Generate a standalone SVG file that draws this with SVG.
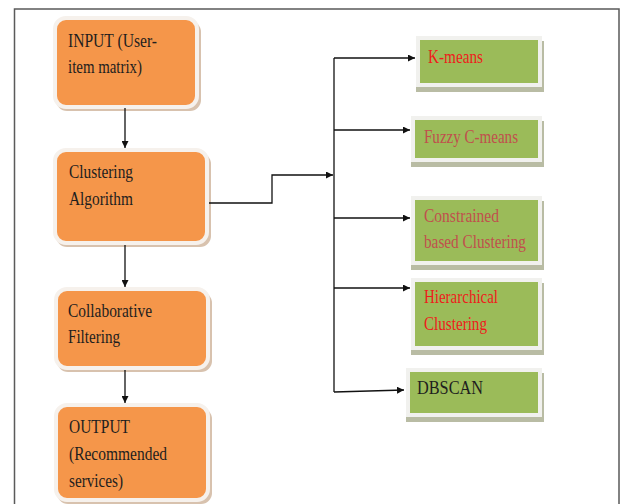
<svg xmlns="http://www.w3.org/2000/svg" width="622" height="504" viewBox="0 0 622 504">
<style>
.frame{fill:none;stroke:#5a5a5a;stroke-width:1.5}
.osh{fill:#d8c2ae}
.obox{fill:#f5964a;stroke:#f6f1ec;stroke-width:4}
.gsh{fill:#b9bca4}
.gbox{fill:#9bbb59;stroke:#f1f1ee;stroke-width:4}
.t{font-family:"Liberation Serif","Times New Roman",serif;font-size:19px;lengthAdjust:spacingAndGlyphs}
.dk{fill:#1e1e1e}
.red{fill:#ee1c1c}
.mr{fill:#c0504d}
.c{fill:none;stroke:#111;stroke-width:1.3}
</style>
<defs>
<marker id="ah" viewBox="0 0 10 10" refX="10" refY="5" markerWidth="7" markerHeight="7" markerUnits="userSpaceOnUse" orient="auto">
<path d="M0,0 L10,5 L0,10 z" fill="#111"/>
</marker>
</defs>
<rect width="622" height="504" fill="#fff"/>
<path class="frame" d="M14.5,504 V9 H619 V504"/>

<g id="input">
<rect class="osh" x="56" y="21" width="145" height="90" rx="11"/>
<rect class="obox" x="55" y="18" width="142" height="89" rx="11"/>
<text class="t dk" x="68" y="47" textLength="89" lengthAdjust="spacingAndGlyphs">INPUT (User-</text>
<text class="t dk" x="68" y="73" textLength="74" lengthAdjust="spacingAndGlyphs">item matrix)</text>
</g>
<g id="clustering">
<rect class="osh" x="56" y="153" width="155" height="94" rx="11"/>
<rect class="obox" x="55" y="150" width="152" height="93" rx="11"/>
<text class="t dk" x="69" y="178" textLength="64" lengthAdjust="spacingAndGlyphs">Clustering</text>
<text class="t dk" x="69" y="205" textLength="64" lengthAdjust="spacingAndGlyphs">Algorithm</text>
</g>
<g id="collaborative">
<rect class="osh" x="57" y="292" width="155" height="80" rx="11"/>
<rect class="obox" x="56" y="289" width="152" height="79" rx="11"/>
<text class="t dk" x="68" y="317" textLength="84" lengthAdjust="spacingAndGlyphs">Collaborative</text>
<text class="t dk" x="68" y="343" textLength="52" lengthAdjust="spacingAndGlyphs">Filtering</text>
</g>
<g id="output">
<rect class="osh" x="57" y="408" width="155" height="96" rx="11"/>
<rect class="obox" x="56" y="405" width="152" height="95" rx="11"/>
<text class="t dk" x="69" y="433" textLength="61" lengthAdjust="spacingAndGlyphs">OUTPUT</text>
<text class="t dk" x="69" y="460" textLength="98" lengthAdjust="spacingAndGlyphs">(Recommended</text>
<text class="t dk" x="69" y="487" textLength="54" lengthAdjust="spacingAndGlyphs">services)</text>
</g>

<g id="kmeans">
<rect class="gsh" x="416" y="41" width="128" height="51"/>
<rect class="gbox" x="418" y="38" width="122" height="47"/>
<text class="t red" x="428" y="63" textLength="55" lengthAdjust="spacingAndGlyphs">K-means</text>
</g>
<g id="fuzzy">
<rect class="gsh" x="411" y="121" width="133" height="46"/>
<rect class="gbox" x="413" y="118" width="127" height="42"/>
<text class="t mr" x="424" y="143" textLength="94" lengthAdjust="spacingAndGlyphs">Fuzzy C-means</text>
</g>
<g id="constrained">
<rect class="gsh" x="411" y="201" width="133" height="69"/>
<rect class="gbox" x="413" y="198" width="127" height="65"/>
<text class="t mr" x="424" y="222" textLength="75" lengthAdjust="spacingAndGlyphs">Constrained</text>
<text class="t mr" x="424" y="248" textLength="102" lengthAdjust="spacingAndGlyphs">based Clustering</text>
</g>
<g id="hierarchical">
<rect class="gsh" x="411" y="283" width="133" height="72"/>
<rect class="gbox" x="413" y="280" width="127" height="68"/>
<text class="t red" x="424" y="303" textLength="74" lengthAdjust="spacingAndGlyphs">Hierarchical</text>
<text class="t red" x="424" y="330" textLength="63" lengthAdjust="spacingAndGlyphs">Clustering</text>
</g>
<g id="dbscan">
<rect class="gsh" x="406" y="373" width="138" height="49"/>
<rect class="gbox" x="408" y="370" width="132" height="45"/>
<text class="t dk" x="417" y="394" textLength="66" lengthAdjust="spacingAndGlyphs">DBSCAN</text>
</g>

<g id="connectors">
<path class="c" d="M125,108 V148" marker-end="url(#ah)"/>
<path class="c" d="M125,245 V287" marker-end="url(#ah)"/>
<path class="c" d="M125,370 V403" marker-end="url(#ah)"/>
<path class="c" d="M209,203 H272 V175 H333" marker-end="url(#ah)"/>
<path class="c" d="M334,58 V392"/>
<path class="c" d="M334,58 H415" marker-end="url(#ah)"/>
<path class="c" d="M334,130 H410" marker-end="url(#ah)"/>
<path class="c" d="M334,218 H410" marker-end="url(#ah)"/>
<path class="c" d="M334,288 H410" marker-end="url(#ah)"/>
<path class="c" d="M334,392 L404,390" marker-end="url(#ah)"/>
</g>
</svg>
